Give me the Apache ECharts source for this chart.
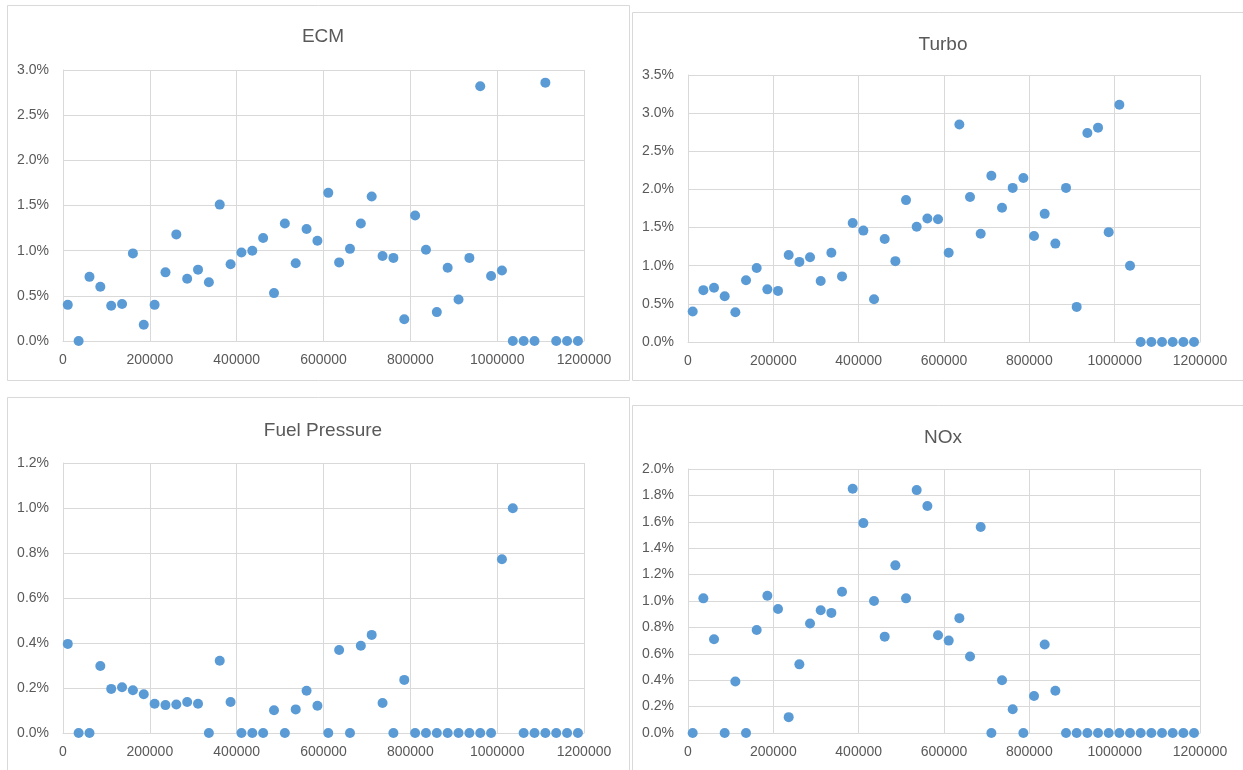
<!DOCTYPE html>
<html>
<head>
<meta charset="utf-8">
<script src="https://cdn.jsdelivr.net/npm/echarts@6/dist/echarts.min.js"></script>
<style>
html,body{margin:0;padding:0;background:#fff;}
#chart{width:1243px;height:770px;}
</style>
</head>
<body>
<div id="chart"></div>
<script>
// Shared x values (distance), one per observation
const xValues = [11000, 36000, 61000, 86000, 111000, 136000, 161000, 186000, 211000, 236000,
  261000, 286000, 311000, 336000, 361000, 386000, 411000, 436000, 461000, 486000,
  511000, 536000, 561000, 586000, 611000, 636000, 661000, 686000, 711000, 736000,
  761000, 786000, 811000, 836000, 861000, 886000, 911000, 936000, 961000, 986000,
  1011000, 1036000, 1061000, 1086000, 1111000, 1136000, 1161000, 1186000];

// Series values, in percent
const ecmValues = [0.40, 0, 0.71, 0.60, 0.39, 0.41, 0.97, 0.18, 0.40, 0.76,
  1.18, 0.69, 0.79, 0.65, 1.51, 0.85, 0.98, 1.00, 1.14, 0.53,
  1.30, 0.86, 1.24, 1.11, 1.64, 0.87, 1.02, 1.30, 1.60, 0.94,
  0.92, 0.24, 1.39, 1.01, 0.32, 0.81, 0.46, 0.92, 2.82, 0.72,
  0.78, 0, 0, 0, 2.86, 0, 0, 0];

const turboValues = [0.40, 0.68, 0.71, 0.60, 0.39, 0.81, 0.97, 0.69, 0.67, 1.14,
  1.05, 1.11, 0.80, 1.17, 0.86, 1.56, 1.46, 0.56, 1.35, 1.06,
  1.86, 1.51, 1.62, 1.61, 1.17, 2.85, 1.90, 1.42, 2.18, 1.76,
  2.02, 2.15, 1.39, 1.68, 1.29, 2.02, 0.46, 2.74, 2.81, 1.44,
  3.11, 1.00, 0, 0, 0, 0, 0, 0];

const fuelValues = [0.396, 0, 0, 0.298, 0.196, 0.203, 0.190, 0.172, 0.130, 0.124,
  0.127, 0.138, 0.130, 0, 0.321, 0.138, 0, 0, 0, 0.101,
  0, 0.105, 0.188, 0.121, 0, 0.369, 0, 0.388, 0.436, 0.133,
  0, 0.236, 0, 0, 0, 0, 0, 0, 0, 0,
  0.772, 0.999, 0, 0, 0, 0, 0, 0];

const noxValues = [0, 1.02, 0.71, 0, 0.39, 0, 0.78, 1.04, 0.94, 0.12,
  0.52, 0.83, 0.93, 0.91, 1.07, 1.85, 1.59, 1.00, 0.73, 1.27,
  1.02, 1.84, 1.72, 0.74, 0.70, 0.87, 0.58, 1.56, 0, 0.40,
  0.18, 0, 0.28, 0.67, 0.32, 0, 0, 0, 0, 0,
  0, 0, 0, 0, 0, 0, 0, 0];

const panelTitles = ['ECM', 'Turbo', 'Fuel Pressure', 'NOx'];
const yMaxes = [3.0, 3.5, 1.2, 2.0];
const yIntervals = [0.5, 0.5, 0.2, 0.2];
const xTicks = [0, 200000, 400000, 600000, 800000, 1000000, 1200000];

const seriesValues = [ecmValues, turboValues, fuelValues, noxValues];

const FONT = '"Liberation Sans", Arial, sans-serif';
const TEXT = '#595959';
const GRID = '#D9D9D9';
const DOT = '#5B9BD5';

const grids = [
  {left: 63, top: 70, width: 521, height: 271},
  {left: 688, top: 75, width: 512, height: 267},
  {left: 63, top: 463, width: 521, height: 270},
  {left: 688, top: 469, width: 512, height: 264}
];
const titlePos = [
  {left: 318, top: 22},
  {left: 938, top: 30},
  {left: 318, top: 416},
  {left: 938, top: 423}
];
const panels = [
  {x: 7.5, y: 5.5, w: 622, h: 375},
  {x: 632.5, y: 12.5, w: 620, h: 368},
  {x: 7.5, y: 397.5, w: 622, h: 380},
  {x: 632.5, y: 405.5, w: 620, h: 380}
];

const chart = echarts.init(document.getElementById('chart'), null, {renderer: 'canvas'});

const option = {
  backgroundColor: '#fff',
  animation: false,
  graphic: panels.map(p => ({
    type: 'rect', silent: true, z: -10,
    shape: {x: p.x, y: p.y, width: p.w, height: p.h},
    style: {fill: '#fff', stroke: GRID, lineWidth: 1}
  })),
  title: panelTitles.map((t, i) => ({
    text: t, left: titlePos[i].left, top: titlePos[i].top, textAlign: 'center',
    textStyle: {fontFamily: FONT, fontSize: 19, fontWeight: 'normal', color: TEXT}
  })),
  grid: grids,
  xAxis: grids.map((g, i) => ({
    type: 'value', gridIndex: i, min: xTicks[0], max: xTicks[xTicks.length - 1],
    interval: xTicks[1] - xTicks[0],
    axisLine: {show: true, onZero: false, lineStyle: {color: GRID, width: 1}},
    axisTick: {show: false},
    splitLine: {show: true, lineStyle: {color: GRID, width: 1}},
    axisLabel: {color: TEXT, fontFamily: FONT, fontSize: 14, margin: 12,
      formatter: v => String(v)}
  })),
  yAxis: grids.map((g, i) => ({
    type: 'value', gridIndex: i, min: 0, max: yMaxes[i], interval: yIntervals[i],
    axisLine: {show: true, lineStyle: {color: GRID, width: 1}},
    axisTick: {show: false},
    splitLine: {show: true, lineStyle: {color: GRID, width: 1}},
    axisLabel: {color: TEXT, fontFamily: FONT, fontSize: 14, margin: 14,
      formatter: v => v.toFixed(1) + '%'}
  })),
  series: seriesValues.map((vals, i) => ({
    type: 'scatter', xAxisIndex: i, yAxisIndex: i,
    symbol: 'circle', symbolSize: 10,
    itemStyle: {color: DOT, opacity: 1},
    data: xValues.map((x, k) => [x, vals[k]])
  }))
};
chart.setOption(option);
</script>
</body>
</html>
